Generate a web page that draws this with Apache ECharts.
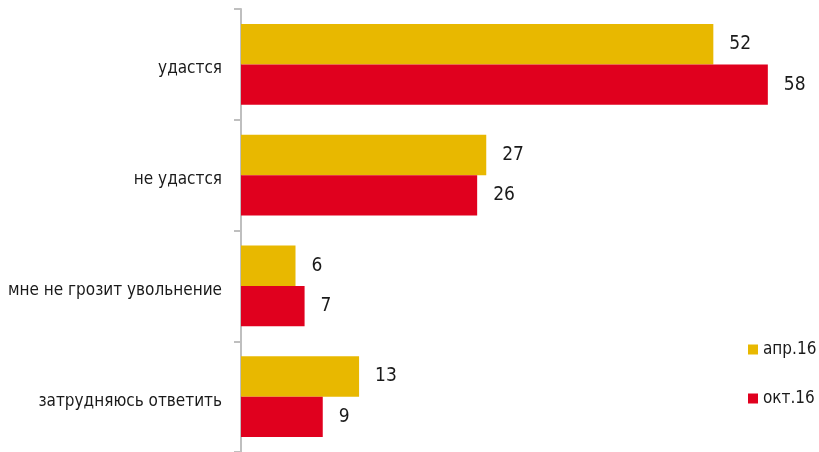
<!DOCTYPE html>
<html>
<head>
<meta charset="utf-8">
<script src="https://cdn.jsdelivr.net/npm/echarts@6/dist/echarts.min.js"></script>
<style>
  html, body { margin: 0; padding: 0; background: #fff; }
  #chart { width: 819px; height: 452px; }
</style>
</head>
<body>
<div id="chart"></div>
<script>
// категории сверху вниз
const categories = ['удастся', 'не удастся', 'мне не грозит увольнение', 'затрудняюсь ответить']
const aprValues = [52, 27, 6, 13]
const octValues = [58, 26, 7, 9]
const seriesNames = ['апр.16', 'окт.16']

const fontName = '"DejaVu Sans Condensed", "Liberation Sans Narrow", "Open Sans", sans-serif'

const myChart = echarts.init(document.getElementById('chart'))

const barLabel = {
  show: true,
  position: 'right',
  distance: 16,
  color: '#1a1a1a',
  fontSize: 19,
  fontFamily: fontName
}

const option = {
  animation: false,
  textStyle: { fontFamily: fontName },
  legend: {
    orient: 'vertical',
    left: 743,
    top: 336,
    itemGap: 32,
    itemWidth: 10,
    itemHeight: 10,
    icon: 'rect',
    textStyle: { color: '#1a1a1a', fontSize: 17, fontFamily: fontName },
    data: seriesNames
  },
  grid: {
    left: 241,
    right: 33,
    top: 9,
    bottom: -3,
    containLabel: false
  },
  xAxis: {
    type: 'value',
    min: 0,
    max: 60,
    show: false
  },
  yAxis: {
    type: 'category',
    inverse: true,
    data: categories,
    axisLine: { show: true, lineStyle: { color: '#bfbfbf', width: 2 } },
    axisTick: { show: true, length: 7, lineStyle: { color: '#bfbfbf', width: 2 } },
    axisLabel: {
      margin: 19,
      formatter: (v) => '{t|' + v + '}',
      rich: {
        t: {
          color: '#1a1a1a',
          fontSize: 17,
          fontFamily: fontName,
          padding: [9, 0, 0, 0]
        }
      }
    },
    splitLine: { show: false }
  },
  series: [{
    name: seriesNames[0],
    type: 'bar',
    data: aprValues,
    barGap: '0%',
    barCategoryGap: '27%',
    itemStyle: { color: '#e8b800' },
    label: barLabel
  }, {
    name: seriesNames[1],
    type: 'bar',
    data: octValues,
    barGap: '0%',
    barCategoryGap: '27%',
    itemStyle: { color: '#e0001e' },
    label: barLabel
  }]
}

myChart.setOption(option)
window.addEventListener('resize', () => {
  myChart.resize()
})
</script>
</body>
</html>
